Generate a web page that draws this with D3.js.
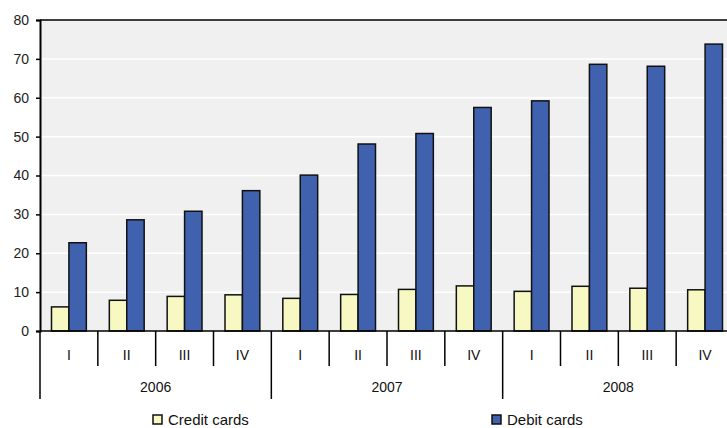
<!DOCTYPE html>
<html>
<head>
<meta charset="utf-8">
<script src="https://cdn.jsdelivr.net/npm/d3@7"></script>
<style>
  html, body { margin: 0; padding: 0; background: #fff; }
  svg { display: block; font-family: "Liberation Sans", Arial, sans-serif; }
</style>
</head>
<body>
<svg id="chart" width="727" height="428"></svg>
<script>
// Quarterly card payments, by card type
const years = ["2006", "2007", "2008"];
const quarters = ["I", "II", "III", "IV"];
const creditCards = [6.2, 7.9, 8.9, 9.3, 8.4, 9.4, 10.7, 11.6, 10.2, 11.5, 11.0, 10.6];
const debitCards = [22.7, 28.6, 30.8, 36.1, 40.1, 48.1, 50.8, 57.5, 59.2, 68.6, 68.1, 73.8];
const yTicks = [0, 10, 20, 30, 40, 50, 60, 70, 80];
const seriesNames = ["Credit cards", "Debit cards"];

const colors = { credit: "#f8f8c2", debit: "#4062ae" };

const svg = d3.select("#chart");
const margin = { left: 40, top: 20 };
const plotW = 694, plotH = 311;   // plot runs past the right edge of the frame
const x0 = margin.left, y0 = margin.top;

const periods = [];
years.forEach(y => quarters.forEach(q => periods.push(y + "-" + q)));

const x = d3.scaleBand().domain(periods).range([x0, x0 + plotW]).paddingInner(0).paddingOuter(0);
const y = d3.scaleLinear().domain([0, 80]).range([y0 + plotH, y0]);
const xs = d3.scaleBand().domain(["credit", "debit"]).range([0, x.bandwidth()]).paddingInner(0).paddingOuter(0.66);

// plot background
svg.append("rect")
  .attr("x", x0).attr("y", y0)
  .attr("width", plotW).attr("height", plotH)
  .attr("fill", "#f0f0f0");

// white gridlines
svg.append("g").selectAll("line")
  .data(yTicks.filter(t => t > 0 && t < 80))
  .join("line")
  .attr("x1", x0).attr("x2", x0 + plotW)
  .attr("y1", d => y(d)).attr("y2", d => y(d))
  .attr("stroke", "#ffffff").attr("stroke-width", 1.5);

// top border
svg.append("line")
  .attr("x1", x0).attr("x2", x0 + plotW)
  .attr("y1", y0).attr("y2", y0)
  .attr("stroke", "#000").attr("stroke-width", 1.5);

// bars
const barData = periods.map((p, i) => ({ p, credit: creditCards[i], debit: debitCards[i] }));
const groups = svg.append("g").selectAll("g")
  .data(barData)
  .join("g")
  .attr("transform", d => `translate(${x(d.p)},0)`);

groups.selectAll("rect")
  .data(d => [["credit", d.credit], ["debit", d.debit]])
  .join("rect")
  .attr("x", d => xs(d[0]))
  .attr("width", xs.bandwidth())
  .attr("y", d => y(d[1]))
  .attr("height", d => y(0) - y(d[1]))
  .attr("fill", d => colors[d[0]])
  .attr("stroke", "#111")
  .attr("stroke-width", 1.5);

// y axis
const yAxis = d3.axisLeft(y).tickValues(yTicks).tickSize(4).tickPadding(7);
const gy = svg.append("g").attr("transform", `translate(${x0},0)`).call(yAxis);
gy.select(".domain").attr("stroke", "#000").attr("stroke-width", 2);
gy.selectAll(".tick line").attr("stroke", "#000").attr("stroke-width", 1.5);
gy.selectAll("text").attr("font-size", 14).attr("fill", "#222");

// baseline
svg.append("line")
  .attr("x1", x0).attr("x2", x0 + plotW)
  .attr("y1", y(0)).attr("y2", y(0))
  .attr("stroke", "#000").attr("stroke-width", 1.5);

// quarter separators and labels
const base = y(0);
const xAxis = svg.append("g");
xAxis.selectAll("line.q")
  .data(periods.filter((p, i) => i % 4 !== 0))
  .join("line")
  .attr("class", "q")
  .attr("x1", d => x(d)).attr("x2", d => x(d))
  .attr("y1", base).attr("y2", base + 35)
  .attr("stroke", "#000").attr("stroke-width", 1.5);

xAxis.selectAll("line.yr")
  .data(years.concat(["end"]))
  .join("line")
  .attr("class", "yr")
  .attr("x1", (d, i) => x0 + i * 4 * x.bandwidth())
  .attr("x2", (d, i) => x0 + i * 4 * x.bandwidth())
  .attr("y1", base).attr("y2", base + 68)
  .attr("stroke", "#000").attr("stroke-width", 1.5);

xAxis.selectAll("text.q")
  .data(periods)
  .join("text")
  .attr("class", "q")
  .attr("x", d => x(d) + x.bandwidth() / 2)
  .attr("y", base + 29)
  .attr("text-anchor", "middle")
  .attr("font-size", 14)
  .attr("fill", "#111")
  .text(d => d.split("-")[1]);

xAxis.selectAll("text.yr")
  .data(years)
  .join("text")
  .attr("class", "yr")
  .attr("x", d => x(d + "-III"))
  .attr("y", base + 61)
  .attr("text-anchor", "middle")
  .attr("font-size", 14)
  .attr("fill", "#111")
  .text(d => d);

// legend
const legendX = [153, 492];
const legend = svg.append("g").selectAll("g")
  .data(seriesNames)
  .join("g")
  .attr("transform", (d, i) => `translate(${legendX[i]},415)`);
legend.append("rect")
  .attr("width", 9).attr("height", 9)
  .attr("fill", (d, i) => i === 0 ? colors.credit : colors.debit)
  .attr("stroke", "#111").attr("stroke-width", 1.5);
legend.append("text")
  .attr("x", 15).attr("y", 10)
  .attr("font-size", 15)
  .attr("fill", "#111")
  .text(d => d);
</script>
</body>
</html>
